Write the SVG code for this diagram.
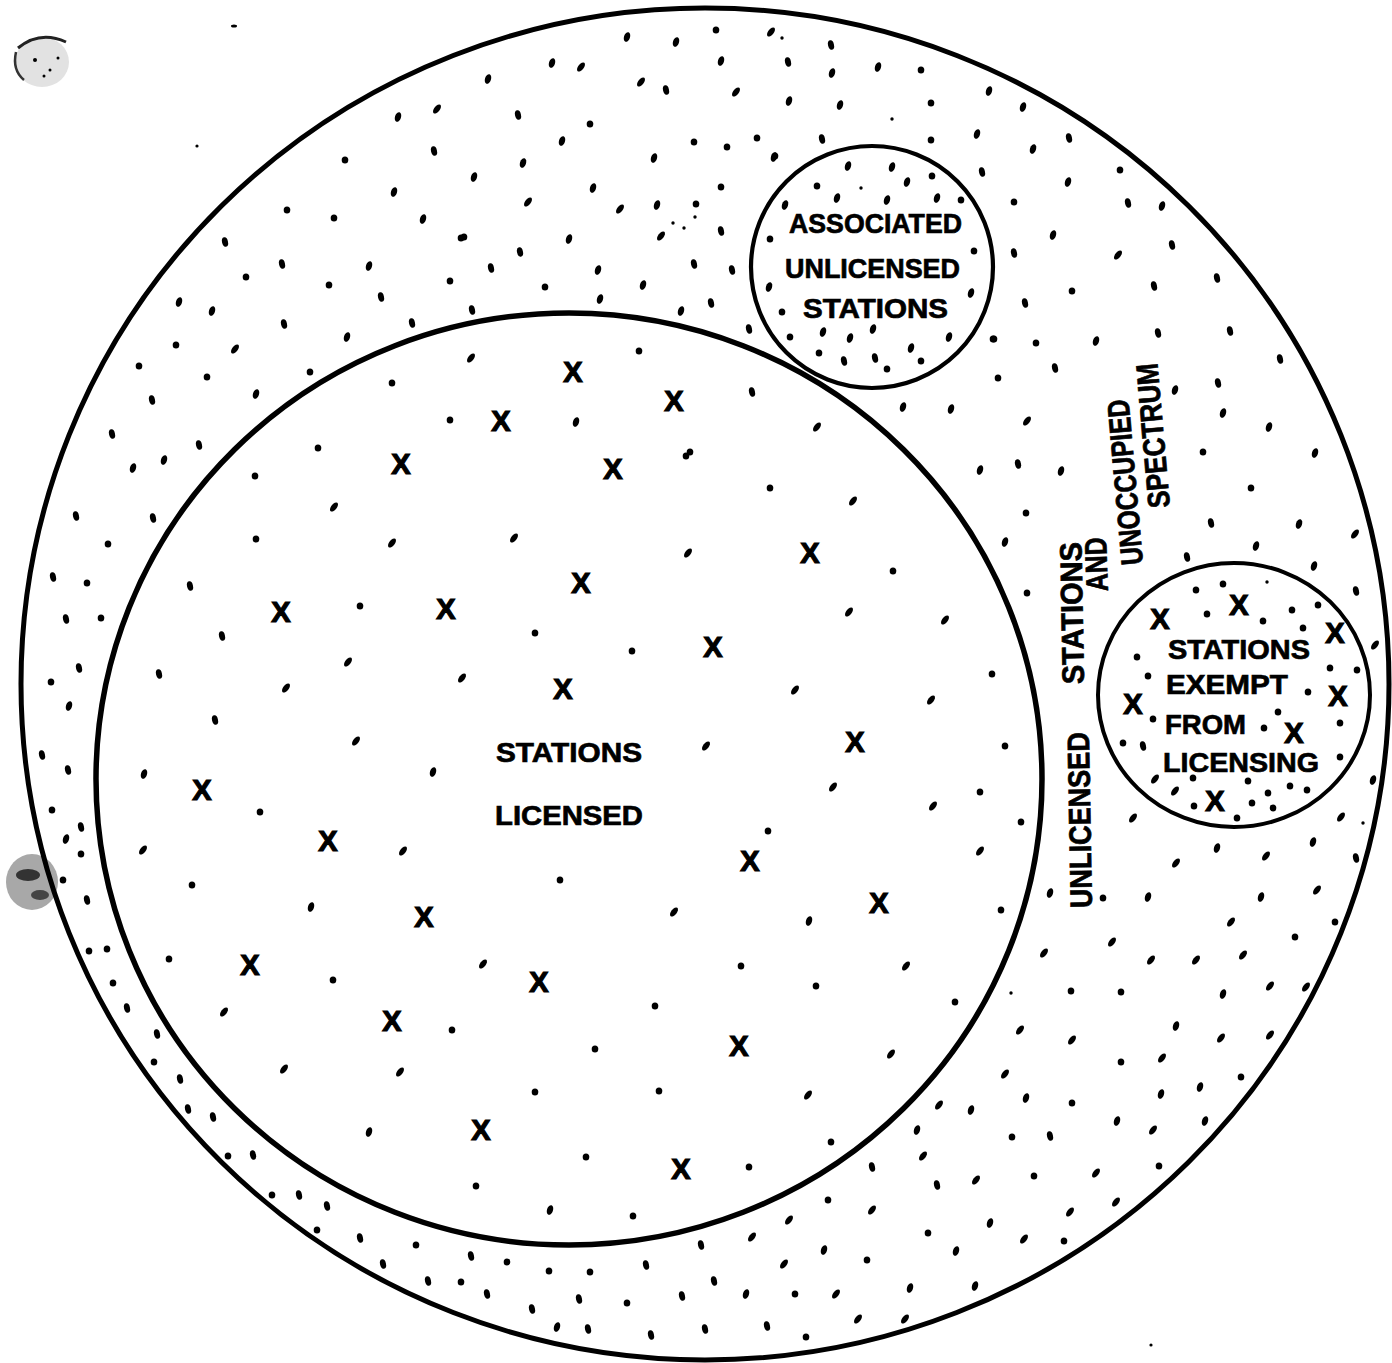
<svg xmlns="http://www.w3.org/2000/svg" xmlns:xlink="http://www.w3.org/1999/xlink" width="1392" height="1363" viewBox="0 0 1392 1363">
<style>
.ring{fill:none;stroke:#000}
.lbl{font-family:"Liberation Sans",Arial,sans-serif;font-weight:bold;font-size:28px;fill:#000;stroke:#000;stroke-width:0.7}
.rl{font-family:"Liberation Sans",Arial,sans-serif;font-weight:bold;font-size:31px;fill:#000;stroke:#000;stroke-width:0.7}
.x{font-family:"Liberation Sans",Arial,sans-serif;font-weight:bold;font-size:29px;fill:#000;stroke:#000;stroke-width:1.2;text-anchor:middle}
</style>
<defs>
<ellipse id="a" rx="3" ry="5" transform="rotate(18)"/>
<ellipse id="b" rx="3" ry="4.8" transform="rotate(-12)"/>
<ellipse id="c" rx="3.3" ry="3.6"/>
<ellipse id="e" rx="2.8" ry="5.4" transform="rotate(38)"/>
<circle id="s" r="1.7"/>
</defs>
<rect width="1392" height="1363" fill="#fff"/>

<g id="scan-marks">
<ellipse cx="42" cy="62" rx="27" ry="25" fill="#e2e2e2"/>
<path d="M18 48 Q40 30 66 42" fill="none" stroke="#222" stroke-width="3"/>
<path d="M16 52 Q12 70 24 80" fill="none" stroke="#333" stroke-width="2.5"/>
<circle cx="35" cy="60" r="2"/><circle cx="50" cy="70" r="1.5"/><circle cx="58" cy="58" r="1.5"/><circle cx="44" cy="76" r="1.5"/>
<ellipse cx="32" cy="882" rx="26" ry="28" fill="#a8a8a8"/>
<ellipse cx="28" cy="875" rx="12" ry="6" fill="#333"/>
<ellipse cx="40" cy="895" rx="9" ry="5" fill="#444"/>
<circle cx="197" cy="146" r="1.6"/>
<ellipse cx="234" cy="26" rx="3" ry="1.5"/>
<circle cx="1151" cy="1345" r="1.6"/>
</g>

<g id="connectors"></g>

<g id="dots">
<!-- band top-left -->
<use href="#a" x="398" y="117"/><use href="#e" x="437" y="109"/><use href="#b" x="434" y="151"/><use href="#c" x="345" y="160"/>
<use href="#a" x="394" y="192"/><use href="#c" x="287" y="210"/><use href="#c" x="334" y="218"/><use href="#a" x="423" y="219"/>
<use href="#c" x="461" y="238"/><use href="#b" x="225" y="242"/><use href="#b" x="282" y="264"/><use href="#a" x="369" y="266"/>
<use href="#c" x="246" y="277"/><use href="#c" x="329" y="285"/><use href="#c" x="450" y="281"/><use href="#b" x="381" y="297"/>
<use href="#a" x="179" y="302"/><use href="#a" x="212" y="311"/><use href="#b" x="284" y="324"/><use href="#b" x="412" y="323"/>
<use href="#a" x="347" y="337"/><use href="#c" x="176" y="345"/><use href="#e" x="235" y="349"/><use href="#c" x="310" y="372"/>
<use href="#c" x="139" y="366"/><use href="#c" x="207" y="377"/><use href="#b" x="152" y="400"/><use href="#a" x="256" y="394"/>
<use href="#b" x="112" y="434"/><use href="#b" x="199" y="445"/>
<!-- band top-middle -->
<use href="#a" x="627" y="37"/><use href="#a" x="676" y="42"/><use href="#c" x="716" y="30"/><use href="#e" x="771" y="32"/><use href="#s" x="782" y="38"/>
<use href="#b" x="831" y="45"/><use href="#a" x="552" y="63"/><use href="#e" x="581" y="67"/><use href="#a" x="488" y="79"/>
<use href="#a" x="721" y="61"/><use href="#b" x="788" y="62"/><use href="#a" x="878" y="67"/><use href="#c" x="921" y="70"/>
<use href="#e" x="641" y="82"/><use href="#b" x="666" y="90"/><use href="#e" x="736" y="92"/><use href="#a" x="832" y="73"/>
<use href="#a" x="789" y="101"/><use href="#a" x="840" y="105"/><use href="#b" x="518" y="115"/><use href="#c" x="590" y="124"/>
<use href="#s" x="892" y="119"/><use href="#a" x="562" y="141"/><use href="#c" x="694" y="142"/><use href="#c" x="727" y="147"/>
<use href="#c" x="757" y="138"/><use href="#b" x="822" y="139"/><use href="#a" x="523" y="163"/><use href="#a" x="654" y="158"/>
<use href="#a" x="774" y="157"/><use href="#a" x="474" y="177"/><use href="#a" x="593" y="188"/><use href="#c" x="721" y="187"/>
<use href="#e" x="528" y="202"/><use href="#e" x="620" y="209"/><use href="#a" x="657" y="205"/><use href="#c" x="696" y="204"/>
<use href="#s" x="695" y="217"/><use href="#s" x="673" y="223"/><use href="#s" x="684" y="228"/><use href="#e" x="661" y="236"/>
<use href="#b" x="721" y="231"/><use href="#a" x="569" y="239"/><use href="#c" x="464" y="237"/><use href="#b" x="520" y="252"/>
<use href="#b" x="491" y="268"/><use href="#a" x="598" y="270"/><use href="#b" x="694" y="264"/><use href="#b" x="732" y="270"/>
<use href="#c" x="545" y="287"/><use href="#a" x="643" y="285"/><use href="#a" x="600" y="299"/><use href="#b" x="711" y="303"/>
<use href="#a" x="681" y="311"/><use href="#b" x="472" y="310"/><use href="#b" x="749" y="329"/><use href="#a" x="903" y="407"/>
<use href="#c" x="931" y="140"/><use href="#a" x="977" y="134"/><use href="#b" x="982" y="172"/><use href="#c" x="932" y="176"/>
<use href="#c" x="998" y="378"/>
<!-- band top-right -->
<use href="#a" x="989" y="91"/><use href="#a" x="1023" y="107"/><use href="#c" x="931" y="103"/><use href="#a" x="1033" y="149"/>
<use href="#b" x="1069" y="138"/><use href="#c" x="1120" y="170"/><use href="#a" x="1068" y="182"/><use href="#c" x="1014" y="202"/>
<use href="#b" x="1128" y="203"/><use href="#a" x="1162" y="206"/><use href="#a" x="1053" y="235"/><use href="#b" x="1014" y="253"/>
<use href="#e" x="1118" y="255"/><use href="#b" x="1172" y="245"/><use href="#b" x="1217" y="278"/><use href="#c" x="1072" y="291"/>
<use href="#b" x="1154" y="286"/><use href="#b" x="1025" y="303"/><use href="#b" x="1158" y="333"/><use href="#b" x="1230" y="331"/>
<use href="#c" x="994" y="339"/><use href="#c" x="1036" y="343"/><use href="#a" x="1096" y="341"/><use href="#b" x="1280" y="359"/>
<use href="#b" x="1055" y="368"/><use href="#b" x="1218" y="383"/><use href="#a" x="1175" y="390"/><use href="#a" x="951" y="409"/>
<use href="#e" x="1027" y="421"/><use href="#a" x="1223" y="413"/><use href="#a" x="1269" y="427"/><use href="#c" x="1203" y="452"/>
<use href="#a" x="1315" y="453"/>
<!-- band right -->
<use href="#a" x="980" y="470"/><use href="#b" x="1018" y="464"/><use href="#a" x="1061" y="471"/><use href="#c" x="1251" y="488"/>
<use href="#c" x="1026" y="513"/><use href="#b" x="1211" y="523"/><use href="#a" x="1299" y="524"/><use href="#e" x="1355" y="534"/>
<use href="#a" x="1005" y="542"/><use href="#a" x="1256" y="546"/><use href="#b" x="1187" y="557"/><use href="#a" x="1314" y="566"/>
<use href="#c" x="1027" y="593"/><use href="#b" x="1356" y="591"/><use href="#e" x="1375" y="645"/><use href="#a" x="1050" y="893"/>
<use href="#a" x="1373" y="780"/><use href="#e" x="1341" y="817"/><use href="#s" x="1363" y="823"/><use href="#e" x="1133" y="818"/>
<use href="#a" x="1217" y="848"/><use href="#a" x="1313" y="842"/><use href="#e" x="1176" y="863"/><use href="#e" x="1266" y="856"/>
<use href="#b" x="1356" y="858"/><use href="#c" x="1103" y="898"/><use href="#a" x="1148" y="897"/><use href="#a" x="1261" y="897"/>
<use href="#e" x="1317" y="890"/>
<!-- band bottom-right -->
<use href="#e" x="1231" y="922"/><use href="#c" x="1335" y="922"/><use href="#c" x="1295" y="937"/><use href="#e" x="1112" y="942"/>
<use href="#e" x="1044" y="953"/><use href="#e" x="1151" y="960"/><use href="#e" x="1196" y="960"/><use href="#e" x="1243" y="955"/>
<use href="#s" x="1011" y="993"/><use href="#c" x="1071" y="991"/><use href="#c" x="1121" y="992"/><use href="#a" x="1223" y="994"/>
<use href="#e" x="1270" y="986"/><use href="#e" x="1306" y="987"/><use href="#e" x="1020" y="1030"/><use href="#e" x="1072" y="1040"/>
<use href="#a" x="1176" y="1026"/><use href="#e" x="1221" y="1038"/><use href="#e" x="1270" y="1035"/><use href="#c" x="1121" y="1062"/>
<use href="#e" x="1162" y="1058"/><use href="#e" x="1005" y="1074"/><use href="#a" x="1026" y="1098"/><use href="#c" x="1072" y="1103"/>
<use href="#a" x="1161" y="1094"/><use href="#a" x="1200" y="1087"/><use href="#c" x="1241" y="1077"/><use href="#e" x="939" y="1105"/>
<use href="#a" x="971" y="1110"/><use href="#a" x="1117" y="1121"/><use href="#a" x="1205" y="1121"/><use href="#c" x="1012" y="1137"/>
<use href="#b" x="1050" y="1136"/><use href="#e" x="1153" y="1130"/><use href="#b" x="937" y="1185"/><use href="#e" x="976" y="1180"/>
<use href="#c" x="1034" y="1176"/><use href="#e" x="1096" y="1173"/><use href="#c" x="1159" y="1166"/><use href="#e" x="1116" y="1202"/>
<use href="#a" x="990" y="1223"/><use href="#e" x="1070" y="1212"/><use href="#c" x="928" y="1233"/><use href="#a" x="956" y="1251"/>
<use href="#e" x="1024" y="1239"/><use href="#c" x="1064" y="1241"/><use href="#a" x="975" y="1286"/>
<!-- band bottom-middle -->
<use href="#a" x="917" y="1130"/><use href="#e" x="923" y="1156"/><use href="#b" x="872" y="1167"/><use href="#c" x="828" y="1200"/>
<use href="#e" x="872" y="1210"/><use href="#e" x="789" y="1220"/><use href="#e" x="752" y="1237"/><use href="#b" x="701" y="1245"/>
<use href="#a" x="824" y="1250"/><use href="#e" x="784" y="1264"/><use href="#c" x="867" y="1260"/><use href="#b" x="471" y="1256"/>
<use href="#c" x="507" y="1262"/><use href="#c" x="549" y="1271"/><use href="#c" x="590" y="1272"/><use href="#b" x="646" y="1265"/>
<use href="#b" x="714" y="1281"/><use href="#a" x="910" y="1288"/><use href="#b" x="487" y="1294"/><use href="#b" x="532" y="1309"/>
<use href="#b" x="579" y="1299"/><use href="#c" x="627" y="1303"/><use href="#b" x="682" y="1296"/><use href="#a" x="746" y="1294"/>
<use href="#c" x="795" y="1294"/><use href="#e" x="836" y="1294"/><use href="#e" x="858" y="1319"/><use href="#e" x="905" y="1319"/>
<use href="#a" x="557" y="1327"/><use href="#b" x="588" y="1329"/><use href="#b" x="651" y="1335"/><use href="#b" x="705" y="1329"/>
<use href="#b" x="767" y="1326"/><use href="#c" x="806" y="1337"/>
<!-- band bottom-left -->
<use href="#c" x="89" y="951"/><use href="#c" x="107" y="949"/><use href="#c" x="113" y="983"/><use href="#b" x="127" y="1008"/>
<use href="#b" x="157" y="1034"/><use href="#c" x="154" y="1062"/><use href="#b" x="180" y="1079"/><use href="#b" x="188" y="1109"/>
<use href="#b" x="213" y="1117"/><use href="#c" x="228" y="1156"/><use href="#b" x="253" y="1155"/><use href="#c" x="272" y="1195"/>
<use href="#b" x="299" y="1195"/><use href="#b" x="327" y="1206"/><use href="#c" x="317" y="1230"/><use href="#b" x="360" y="1238"/>
<use href="#c" x="416" y="1245"/><use href="#b" x="383" y="1264"/><use href="#b" x="428" y="1281"/><use href="#c" x="461" y="1282"/>
<!-- band left -->
<use href="#a" x="133" y="468"/><use href="#a" x="164" y="460"/><use href="#b" x="76" y="516"/><use href="#b" x="153" y="518"/>
<use href="#c" x="108" y="544"/><use href="#b" x="53" y="577"/><use href="#c" x="87" y="583"/><use href="#b" x="66" y="619"/>
<use href="#c" x="101" y="618"/><use href="#b" x="79" y="668"/><use href="#c" x="51" y="682"/><use href="#a" x="69" y="706"/>
<use href="#b" x="42" y="755"/><use href="#b" x="68" y="770"/><use href="#c" x="52" y="810"/><use href="#b" x="81" y="827"/>
<use href="#a" x="66" y="839"/><use href="#c" x="81" y="854"/><use href="#c" x="63" y="880"/><use href="#b" x="87" y="900"/>
<!-- inside licensed circle -->
<use href="#c" x="392" y="383"/><use href="#c" x="450" y="420"/><use href="#c" x="318" y="448"/><use href="#e" x="471" y="358"/>
<use href="#c" x="639" y="351"/><use href="#b" x="752" y="392"/><use href="#a" x="576" y="422"/><use href="#e" x="817" y="427"/>
<use href="#c" x="690" y="452"/><use href="#c" x="255" y="476"/><use href="#e" x="334" y="507"/><use href="#c" x="256" y="539"/>
<use href="#e" x="392" y="543"/><use href="#b" x="190" y="586"/><use href="#c" x="360" y="606"/><use href="#b" x="222" y="636"/>
<use href="#e" x="348" y="662"/><use href="#b" x="159" y="674"/><use href="#e" x="286" y="688"/><use href="#e" x="462" y="678"/>
<use href="#b" x="215" y="720"/><use href="#e" x="356" y="741"/><use href="#a" x="433" y="772"/><use href="#a" x="144" y="774"/>
<use href="#c" x="260" y="812"/><use href="#e" x="143" y="850"/><use href="#e" x="403" y="851"/><use href="#c" x="192" y="885"/>
<use href="#a" x="311" y="907"/><use href="#c" x="169" y="959"/><use href="#c" x="333" y="980"/><use href="#e" x="224" y="1012"/>
<use href="#c" x="452" y="1030"/><use href="#e" x="284" y="1069"/><use href="#e" x="400" y="1072"/><use href="#a" x="369" y="1132"/>
<use href="#e" x="674" y="912"/><use href="#a" x="809" y="921"/><use href="#e" x="483" y="964"/><use href="#c" x="741" y="966"/>
<use href="#e" x="906" y="966"/><use href="#c" x="816" y="986"/><use href="#c" x="655" y="1006"/><use href="#c" x="595" y="1049"/>
<use href="#e" x="891" y="1054"/><use href="#c" x="535" y="1092"/><use href="#c" x="659" y="1091"/><use href="#e" x="808" y="1095"/>
<use href="#c" x="831" y="1142"/><use href="#c" x="586" y="1157"/><use href="#c" x="749" y="1167"/><use href="#c" x="476" y="1186"/>
<use href="#a" x="550" y="1210"/><use href="#c" x="633" y="1216"/><use href="#c" x="955" y="1002"/><use href="#c" x="1001" y="910"/>
<use href="#e" x="945" y="620"/><use href="#c" x="992" y="674"/><use href="#e" x="931" y="700"/><use href="#c" x="1005" y="746"/>
<use href="#c" x="980" y="792"/><use href="#e" x="933" y="806"/><use href="#c" x="1021" y="822"/><use href="#e" x="980" y="851"/>
<use href="#e" x="514" y="538"/><use href="#e" x="688" y="553"/><use href="#c" x="770" y="488"/><use href="#c" x="686" y="456"/>
<use href="#e" x="853" y="501"/><use href="#e" x="849" y="612"/><use href="#c" x="893" y="571"/><use href="#c" x="535" y="633"/>
<use href="#c" x="632" y="651"/><use href="#e" x="795" y="690"/><use href="#e" x="706" y="746"/><use href="#e" x="833" y="787"/>
<use href="#c" x="768" y="831"/><use href="#c" x="560" y="880"/>
<!-- inside associated circle -->
<use href="#a" x="848" y="166"/><use href="#a" x="892" y="167"/><use href="#c" x="817" y="186"/><use href="#s" x="861" y="188"/>
<use href="#a" x="907" y="182"/><use href="#a" x="837" y="198"/><use href="#a" x="887" y="200"/><use href="#a" x="937" y="198"/>
<use href="#c" x="961" y="200"/><use href="#a" x="785" y="205"/><use href="#c" x="770" y="239"/><use href="#c" x="974" y="251"/>
<use href="#a" x="769" y="287"/><use href="#a" x="971" y="293"/><use href="#c" x="782" y="312"/><use href="#c" x="790" y="337"/>
<use href="#a" x="823" y="332"/><use href="#a" x="850" y="338"/><use href="#a" x="873" y="329"/><use href="#a" x="949" y="337"/>
<use href="#c" x="819" y="353"/><use href="#b" x="844" y="361"/><use href="#b" x="875" y="358"/><use href="#a" x="911" y="348"/>
<use href="#c" x="921" y="361"/><use href="#c" x="887" y="369"/><use href="#c" x="775" y="156"/><use href="#c" x="993" y="339"/>
<!-- inside exempt circle -->
<use href="#c" x="1223" y="584"/><use href="#c" x="1196" y="590"/><use href="#s" x="1267" y="582"/><use href="#c" x="1207" y="614"/>
<use href="#c" x="1292" y="610"/><use href="#c" x="1263" y="621"/><use href="#c" x="1318" y="605"/><use href="#c" x="1303" y="628"/>
<use href="#c" x="1137" y="657"/><use href="#c" x="1330" y="668"/><use href="#c" x="1357" y="670"/><use href="#c" x="1148" y="676"/>
<use href="#c" x="1308" y="692"/><use href="#c" x="1153" y="719"/><use href="#c" x="1278" y="712"/><use href="#c" x="1264" y="728"/>
<use href="#c" x="1340" y="723"/><use href="#c" x="1123" y="743"/><use href="#b" x="1143" y="746"/><use href="#c" x="1340" y="757"/>
<use href="#e" x="1155" y="779"/><use href="#c" x="1193" y="778"/><use href="#c" x="1248" y="781"/><use href="#e" x="1175" y="791"/>
<use href="#c" x="1290" y="786"/><use href="#c" x="1268" y="793"/><use href="#c" x="1307" y="790"/><use href="#c" x="1194" y="806"/>
<use href="#c" x="1252" y="803"/><use href="#c" x="1273" y="808"/><use href="#c" x="1237" y="818"/>
</g>

<g id="unlicensed-region">
<ellipse class="ring" cx="705" cy="684" rx="684" ry="676" stroke-width="5"/>
<text class="rl" transform="translate(1092,908) rotate(-91)" textLength="176" lengthAdjust="spacingAndGlyphs">UNLICENSED</text>
<text class="rl" transform="translate(1084,684) rotate(-91)" textLength="142" lengthAdjust="spacingAndGlyphs">STATIONS</text>
<text class="rl" transform="translate(1108,591) rotate(-92)" textLength="54" lengthAdjust="spacingAndGlyphs">AND</text>
<text class="rl" transform="translate(1143,564) rotate(-95)" textLength="166" lengthAdjust="spacingAndGlyphs">UNOCCUPIED</text>
<text class="rl" transform="translate(1170,507) rotate(-95)" textLength="145" lengthAdjust="spacingAndGlyphs">SPECTRUM</text>
</g>

<g id="licensed-stations">
<ellipse class="ring" cx="569" cy="779" rx="473" ry="466" stroke-width="5.5"/>
<text class="lbl" x="496" y="762" textLength="146" lengthAdjust="spacingAndGlyphs">STATIONS</text>
<text class="lbl" x="495" y="825" textLength="148" lengthAdjust="spacingAndGlyphs">LICENSED</text>
</g>

<g id="associated-unlicensed-stations">
<circle class="ring" cx="872" cy="267" r="121" stroke-width="4.2"/>
<text class="lbl" x="789" y="233" textLength="173" lengthAdjust="spacingAndGlyphs">ASSOCIATED</text>
<text class="lbl" x="785" y="278" textLength="175" lengthAdjust="spacingAndGlyphs">UNLICENSED</text>
<text class="lbl" x="803" y="318" textLength="145" lengthAdjust="spacingAndGlyphs">STATIONS</text>
</g>

<g id="stations-exempt">
<ellipse class="ring" cx="1234" cy="695" rx="136" ry="132" stroke-width="4"/>
<text class="lbl" x="1168" y="659" textLength="142" lengthAdjust="spacingAndGlyphs">STATIONS</text>
<text class="lbl" x="1166" y="694" textLength="122" lengthAdjust="spacingAndGlyphs">EXEMPT</text>
<text class="lbl" x="1165" y="734" textLength="81" lengthAdjust="spacingAndGlyphs">FROM</text>
<text class="lbl" x="1163" y="772" textLength="156" lengthAdjust="spacingAndGlyphs">LICENSING</text>
</g>

<g id="x-marks">
<text class="x" x="573" y="382">X</text><text class="x" x="674" y="411">X</text><text class="x" x="501" y="431">X</text>
<text class="x" x="401" y="474">X</text><text class="x" x="613" y="479">X</text><text class="x" x="810" y="563">X</text>
<text class="x" x="581" y="593">X</text><text class="x" x="281" y="622">X</text><text class="x" x="446" y="619">X</text>
<text class="x" x="713" y="657">X</text><text class="x" x="563" y="699">X</text><text class="x" x="855" y="752">X</text>
<text class="x" x="202" y="800">X</text><text class="x" x="328" y="851">X</text><text class="x" x="750" y="871">X</text>
<text class="x" x="879" y="913">X</text><text class="x" x="424" y="927">X</text><text class="x" x="250" y="975">X</text>
<text class="x" x="539" y="992">X</text><text class="x" x="392" y="1031">X</text><text class="x" x="739" y="1056">X</text>
<text class="x" x="481" y="1140">X</text><text class="x" x="681" y="1179">X</text>
<text class="x" x="1160" y="629">X</text><text class="x" x="1239" y="615">X</text><text class="x" x="1335" y="643">X</text>
<text class="x" x="1133" y="714">X</text><text class="x" x="1338" y="706">X</text><text class="x" x="1294" y="743">X</text>
<text class="x" x="1215" y="811">X</text>
</g>
</svg>
